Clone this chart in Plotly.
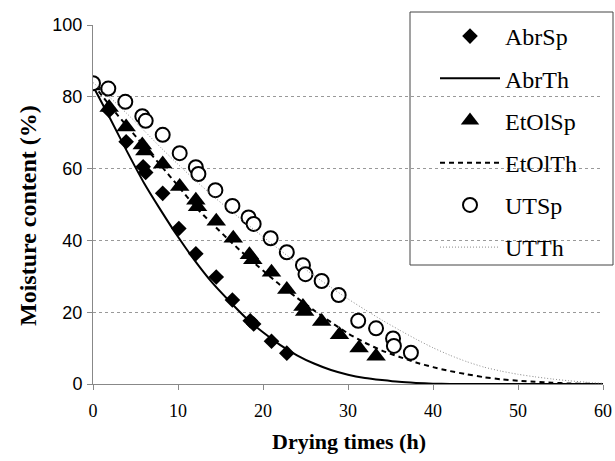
import plotly.graph_objects as go

# Experimental points
abr_sp_x = [1.9, 3.9, 5.9, 6.2, 8.2, 10.1, 12.1, 14.5, 16.4, 18.5, 18.9, 21.0, 22.8]
abr_sp_y = [76.2, 67.5, 60.5, 58.9, 53.1, 43.3, 36.3, 29.8, 23.4, 17.6, 16.7, 11.9, 8.6]

etol_sp_x = [0, 1.9, 3.9, 5.8, 6.1, 8.2, 10.2, 12.1, 12.3, 14.5, 16.5, 18.4, 18.8,
             21.0, 22.8, 24.7, 24.9, 26.9, 29.0, 31.3, 33.3]
etol_sp_y = [83.0, 77.0, 71.6, 66.6, 64.9, 61.3, 55.0, 51.2, 49.4, 45.3, 40.6, 36.0, 34.6,
             31.1, 26.3, 21.6, 20.2, 17.4, 13.7, 10.0, 7.7]

ut_sp_x = [0, 1.8, 3.8, 5.8, 6.2, 8.2, 10.2, 12.1, 12.4, 14.4, 16.4, 18.3, 18.9, 20.9,
           22.8, 24.7, 25.0, 26.9, 28.9, 31.2, 33.3, 35.3, 35.4, 37.4]
ut_sp_y = [83.8, 82.3, 78.6, 74.6, 73.3, 69.4, 64.3, 60.4, 58.5, 54.0, 49.6, 46.4, 44.6, 40.6,
           36.7, 33.1, 30.6, 28.7, 24.8, 17.6, 15.5, 12.7, 10.6, 8.7]

# Theoretical curves
th_x = [0, 2, 4, 6, 8, 10, 12, 14, 16, 18, 20, 22, 24, 26, 28, 30,
        32, 34, 36, 38, 40, 42, 44, 46, 48, 50, 52, 54, 56, 58, 60]
abr_th_y = [83.0, 74.0, 64.8, 56.0, 48.3, 41.0, 34.3, 28.3, 23.2, 18.4, 14.4, 10.9, 8.0, 5.7,
            3.9, 2.6, 1.7, 1.1, 0.6, 0.3, 0.1, 0.0, 0.0, 0.0, 0.0, 0.0, 0.0, 0.0, 0.0, 0.0, 0.0]
etol_th_y = [83.5, 77.5, 71.8, 66.3, 60.8, 55.2, 49.5, 44.7, 40.1, 35.7, 31.6, 27.6, 24.0, 20.5,
             17.2, 14.1, 11.5, 9.3, 7.6, 6.0, 4.7, 3.6, 2.7, 1.9, 1.3, 0.9, 0.6, 0.35, 0.15, 0.05, 0.0]
ut_th_y = [84.0, 79.8, 75.3, 70.6, 65.8, 61.2, 56.8, 52.6, 48.6, 44.8, 41.0, 37.3, 33.7, 30.2,
           26.9, 23.7, 20.7, 17.8, 15.1, 12.5, 10.1, 8.0, 6.2, 4.7, 3.6, 2.7, 2.0, 1.4, 0.9, 0.5, 0.2]

x_ticks = [0, 10, 20, 30, 40, 50, 60]
y_ticks = [0, 20, 40, 60, 80, 100]

serif = "Liberation Serif, Times New Roman, serif"
sans = "Liberation Sans, Arial, sans-serif"

fig = go.Figure()
fig.add_trace(go.Scatter(x=abr_sp_x, y=abr_sp_y, mode="markers", name="AbrSp", legendgroup="a",
                         marker=dict(symbol="diamond", size=12, color="black")))
fig.add_trace(go.Scatter(x=th_x, y=abr_th_y, mode="lines", name="AbrTh", legendgroup="b",
                         line=dict(color="black", width=2, shape="spline", smoothing=0.6)))
fig.add_trace(go.Scatter(x=etol_sp_x, y=etol_sp_y, mode="markers", name="EtOlSp", legendgroup="c",
                         marker=dict(symbol="triangle-up", size=17, color="black")))
fig.add_trace(go.Scatter(x=th_x, y=etol_th_y, mode="lines", name="EtOlTh", legendgroup="d",
                         line=dict(color="black", width=2, dash="5px,4px", shape="spline", smoothing=0.6)))
fig.add_trace(go.Scatter(x=ut_sp_x, y=ut_sp_y, mode="markers", name="UTSp", legendgroup="e",
                         marker=dict(symbol="circle", size=14, color="white",
                                     line=dict(color="black", width=2))))
fig.add_trace(go.Scatter(x=th_x, y=ut_th_y, mode="lines", name="UTTh", legendgroup="f",
                         line=dict(color="#8a8a8a", width=1, dash="1px,2px", shape="spline", smoothing=0.6)))

W, H = 615, 461
ml, mr, mt, mb = 93, 12, 25, 77
pw, ph = W - ml - mr, H - mt - mb

def px_x(p):
    return (p - ml) / pw

def px_y(p):
    return (H - mb - p) / ph

fig.update_layout(
    width=W, height=H,
    margin=dict(l=ml, r=mr, t=mt, b=mb, autoexpand=False),
    paper_bgcolor="white", plot_bgcolor="white",
    showlegend=True,
    legend=dict(x=px_x(435), y=px_y(270), xanchor="left", yanchor="bottom",
                bgcolor="rgba(0,0,0,0)", borderwidth=0,
                font=dict(family=serif, size=24, color="black"),
                itemwidth=60, itemsizing="trace", tracegroupgap=8,
                traceorder="grouped"),
    xaxis=dict(range=[0, 60], tickvals=x_ticks, ticks="outside", ticklen=5,
               tickcolor="#888", showline=True, linecolor="#888", linewidth=1,
               showgrid=False, zeroline=False, ticklabelstandoff=5,
               tickfont=dict(family=serif, size=18, color="black")),
    yaxis=dict(range=[0, 100], tickvals=y_ticks, ticks="outside", ticklen=5,
               tickcolor="#888", showline=True, linecolor="#888", linewidth=1,
               showgrid=True, gridcolor="#999", griddash="dot", gridwidth=1,
               zeroline=False, ticklabelstandoff=1,
               tickfont=dict(family=sans, size=18, color="black")),
    shapes=[dict(type="rect", xref="paper", yref="paper",
                 x0=px_x(410), x1=px_x(613), y0=px_y(265), y1=px_y(12),
                 fillcolor="white", line=dict(color="#444", width=1), layer="between")],
    annotations=[
        dict(text="<b>Drying times (h)</b>", xref="paper", yref="paper",
             x=px_x(349), y=px_y(441), xanchor="center", yanchor="middle", showarrow=False,
             font=dict(family=serif, size=22, color="black")),
        dict(text="<b>Moisture content (%)</b>", xref="paper", yref="paper",
             x=px_x(28), y=px_y(216), xanchor="center", yanchor="middle", showarrow=False,
             textangle=-90, font=dict(family=serif, size=24, color="black")),
    ],
)

fig.write_html("out.html", config={"displayModeBar": False},
               post_script="document.body.style.margin='0px';document.body.style.overflow='hidden';")
